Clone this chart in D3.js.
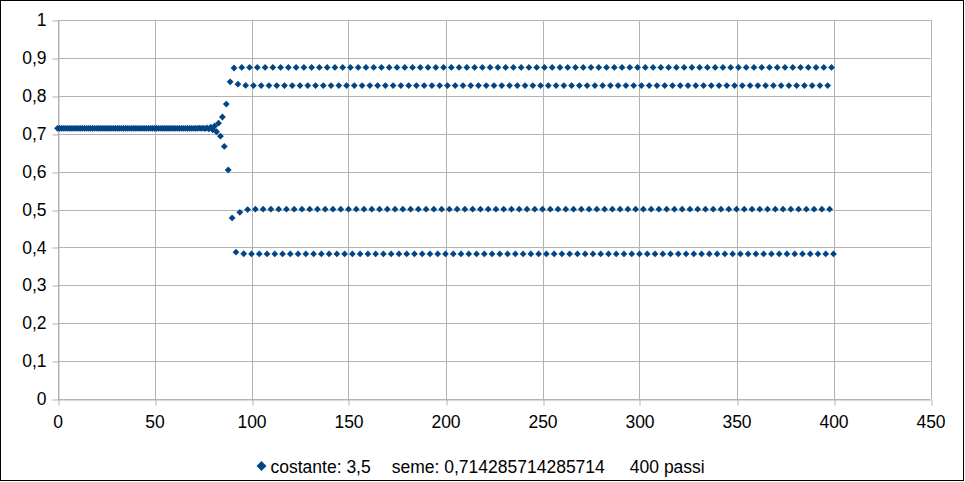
<!DOCTYPE html>
<html>
<head>
<meta charset="utf-8">
<script src="https://cdn.jsdelivr.net/npm/d3@7"></script>
<style>
  html, body { margin: 0; padding: 0; background: #fff; }
  svg { display: block; }
  text { font-family: "Liberation Sans", Arial, sans-serif; fill: #000; }
</style>
</head>
<body>
<svg id="chart" width="965" height="482"></svg>
<script>
// ---- data ----
const xTicks = [0, 50, 100, 150, 200, 250, 300, 350, 400, 450];
const xTickLabels = ["0", "50", "100", "150", "200", "250", "300", "350", "400", "450"];
const yTicks = [0, 0.1, 0.2, 0.3, 0.4, 0.5, 0.6, 0.7, 0.8, 0.9, 1];
const yTickLabels = ["0", "0,1", "0,2", "0,3", "0,4", "0,5", "0,6", "0,7", "0,8", "0,9", "1"];
const seriesName = "costante: 3,5";
const seedLabel = "seme: 0,714285714285714";
const stepsLabel = "400 passi";

// values for steps 0..400
const values = [
  // 0-72
  0.7143,0.7143,0.7143,0.7143,0.7143,0.7143,0.7143,0.7143,0.7143,0.7143,
  0.7143,0.7143,0.7143,0.7143,0.7143,0.7143,0.7143,0.7143,0.7143,0.7143,
  0.7143,0.7143,0.7143,0.7143,0.7143,0.7143,0.7143,0.7143,0.7143,0.7143,
  0.7143,0.7143,0.7143,0.7143,0.7143,0.7143,0.7143,0.7143,0.7143,0.7143,
  0.7143,0.7143,0.7143,0.7143,0.7143,0.7143,0.7143,0.7143,0.7143,0.7143,
  0.7143,0.7143,0.7143,0.7143,0.7143,0.7143,0.7143,0.7143,0.7143,0.7143,
  0.7143,0.7143,0.7143,0.7143,0.7143,0.7143,0.7143,0.7143,0.7143,0.7143,
  0.7143,0.7143,0.7143,
  // 73-100
  0.7145,0.7139,0.7148,0.7135,0.7155,0.7125,0.7170,0.7102,0.7203,0.7051,
  0.7278,0.6934,0.7441,0.6664,0.7782,0.6043,0.8369,0.4777,0.8733,0.3874,
  0.8306,0.4925,0.8748,0.3833,0.8274,0.4999,0.8750,0.3828,
  // 101-400
  0.8269,0.5009,0.8750,0.3828,0.8269,0.5009,0.8750,0.3828,0.8269,0.5009,0.8750,0.3828,0.8269,0.5009,0.8750,0.3828,0.8269,0.5009,0.8750,0.3828,
  0.8269,0.5009,0.8750,0.3828,0.8269,0.5009,0.8750,0.3828,0.8269,0.5009,0.8750,0.3828,0.8269,0.5009,0.8750,0.3828,0.8269,0.5009,0.8750,0.3828,
  0.8269,0.5009,0.8750,0.3828,0.8269,0.5009,0.8750,0.3828,0.8269,0.5009,0.8750,0.3828,0.8269,0.5009,0.8750,0.3828,0.8269,0.5009,0.8750,0.3828,
  0.8269,0.5009,0.8750,0.3828,0.8269,0.5009,0.8750,0.3828,0.8269,0.5009,0.8750,0.3828,0.8269,0.5009,0.8750,0.3828,0.8269,0.5009,0.8750,0.3828,
  0.8269,0.5009,0.8750,0.3828,0.8269,0.5009,0.8750,0.3828,0.8269,0.5009,0.8750,0.3828,0.8269,0.5009,0.8750,0.3828,0.8269,0.5009,0.8750,0.3828,
  0.8269,0.5009,0.8750,0.3828,0.8269,0.5009,0.8750,0.3828,0.8269,0.5009,0.8750,0.3828,0.8269,0.5009,0.8750,0.3828,0.8269,0.5009,0.8750,0.3828,
  0.8269,0.5009,0.8750,0.3828,0.8269,0.5009,0.8750,0.3828,0.8269,0.5009,0.8750,0.3828,0.8269,0.5009,0.8750,0.3828,0.8269,0.5009,0.8750,0.3828,
  0.8269,0.5009,0.8750,0.3828,0.8269,0.5009,0.8750,0.3828,0.8269,0.5009,0.8750,0.3828,0.8269,0.5009,0.8750,0.3828,0.8269,0.5009,0.8750,0.3828,
  0.8269,0.5009,0.8750,0.3828,0.8269,0.5009,0.8750,0.3828,0.8269,0.5009,0.8750,0.3828,0.8269,0.5009,0.8750,0.3828,0.8269,0.5009,0.8750,0.3828,
  0.8269,0.5009,0.8750,0.3828,0.8269,0.5009,0.8750,0.3828,0.8269,0.5009,0.8750,0.3828,0.8269,0.5009,0.8750,0.3828,0.8269,0.5009,0.8750,0.3828,
  0.8269,0.5009,0.8750,0.3828,0.8269,0.5009,0.8750,0.3828,0.8269,0.5009,0.8750,0.3828,0.8269,0.5009,0.8750,0.3828,0.8269,0.5009,0.8750,0.3828,
  0.8269,0.5009,0.8750,0.3828,0.8269,0.5009,0.8750,0.3828,0.8269,0.5009,0.8750,0.3828,0.8269,0.5009,0.8750,0.3828,0.8269,0.5009,0.8750,0.3828,
  0.8269,0.5009,0.8750,0.3828,0.8269,0.5009,0.8750,0.3828,0.8269,0.5009,0.8750,0.3828,0.8269,0.5009,0.8750,0.3828,0.8269,0.5009,0.8750,0.3828,
  0.8269,0.5009,0.8750,0.3828,0.8269,0.5009,0.8750,0.3828,0.8269,0.5009,0.8750,0.3828,0.8269,0.5009,0.8750,0.3828,0.8269,0.5009,0.8750,0.3828,
  0.8269,0.5009,0.8750,0.3828,0.8269,0.5009,0.8750,0.3828,0.8269,0.5009,0.8750,0.3828,0.8269,0.5009,0.8750,0.3828,0.8269,0.5009,0.8750,0.3828
];
const steps = values.map((v, i) => i);

// ---- layout ----
const W = 965, H = 482;
const plot = { left: 57.5, right: 930.5, top: 20, bottom: 399 };
const gridColor = "#b3b3b3";
const markerColor = "#004586";
const fontSize = 17.5;

const svg = d3.select("#chart");

svg.append("rect")
  .attr("x", 0.5).attr("y", 0.5)
  .attr("width", W - 2).attr("height", H - 2)
  .attr("fill", "#fff").attr("stroke", "#000").attr("stroke-width", 1);

const x = d3.scaleLinear().domain([0, 450]).range([plot.left, plot.right]);
const y = d3.scaleLinear().domain([0, 1]).range([plot.bottom, plot.top]);

// gridlines
svg.append("g")
  .selectAll("line.v")
  .data(xTicks)
  .join("line")
  .attr("x1", d => Math.round(x(d)) + 0.5).attr("x2", d => Math.round(x(d)) + 0.5)
  .attr("y1", plot.top).attr("y2", plot.bottom)
  .attr("stroke", gridColor).attr("stroke-width", 1);

svg.append("g")
  .selectAll("line.h")
  .data(yTicks)
  .join("line")
  .attr("x1", plot.left).attr("x2", plot.right)
  .attr("y1", d => Math.round(y(d)) + 0.5).attr("y2", d => Math.round(y(d)) + 0.5)
  .attr("stroke", gridColor).attr("stroke-width", 1);

// axes
const xAxis = d3.axisBottom(x)
  .tickValues(xTicks)
  .tickFormat((d, i) => xTickLabels[i])
  .tickSize(6).tickSizeOuter(0).tickPadding(10);
const gx = svg.append("g")
  .attr("transform", `translate(0,${Math.round(y(0)) + 0.5})`)
  .call(xAxis);
gx.select(".domain").attr("stroke", gridColor);
gx.selectAll(".tick line").attr("stroke", gridColor)
  .attr("transform", function(d){ return `translate(${Math.round(x(d)) + 0.5 - x(d)},0)`; });
gx.selectAll(".tick text")
  .style("font-family", '"Liberation Sans", Arial, sans-serif')
  .style("font-size", fontSize + "px").attr("fill", "#000");

const yAxis = d3.axisLeft(y)
  .tickValues(yTicks)
  .tickFormat((d, i) => yTickLabels[i])
  .tickSize(6).tickSizeOuter(0).tickPadding(6);
const gy = svg.append("g")
  .attr("transform", `translate(${Math.round(x(0)) + 0.5},0)`)
  .call(yAxis);
gy.select(".domain").attr("stroke", gridColor);
gy.selectAll(".tick line").attr("stroke", gridColor)
  .attr("transform", function(d){ return `translate(0,${Math.round(y(d)) + 0.5 - y(d)})`; });
gy.selectAll(".tick text")
  .style("font-family", '"Liberation Sans", Arial, sans-serif')
  .style("font-size", fontSize + "px").attr("fill", "#000");

// markers
const r = 3.4;
const diamond = `M0,${-r}L${r},0L0,${r}L${-r},0Z`;
svg.append("g")
  .selectAll("path")
  .data(steps)
  .join("path")
  .attr("d", diamond)
  .attr("transform", i => `translate(${x(steps[i])},${y(values[i])})`)
  .attr("fill", markerColor);

// legend
const lg = svg.append("g").attr("transform", "translate(261.5,466)");
lg.append("path").attr("d", `M0,-5L5,0L0,5L-5,0Z`).attr("fill", markerColor);
const lt = lg.append("text")
  .attr("x", 9).attr("y", 6.5)
  .style("font-size", fontSize + "px")
  .style("white-space", "pre");
lt.append("tspan").text(seriesName);
lt.append("tspan").attr("dx", 21).text(seedLabel);
lt.append("tspan").attr("dx", 25).text(stepsLabel);
</script>
</body>
</html>
